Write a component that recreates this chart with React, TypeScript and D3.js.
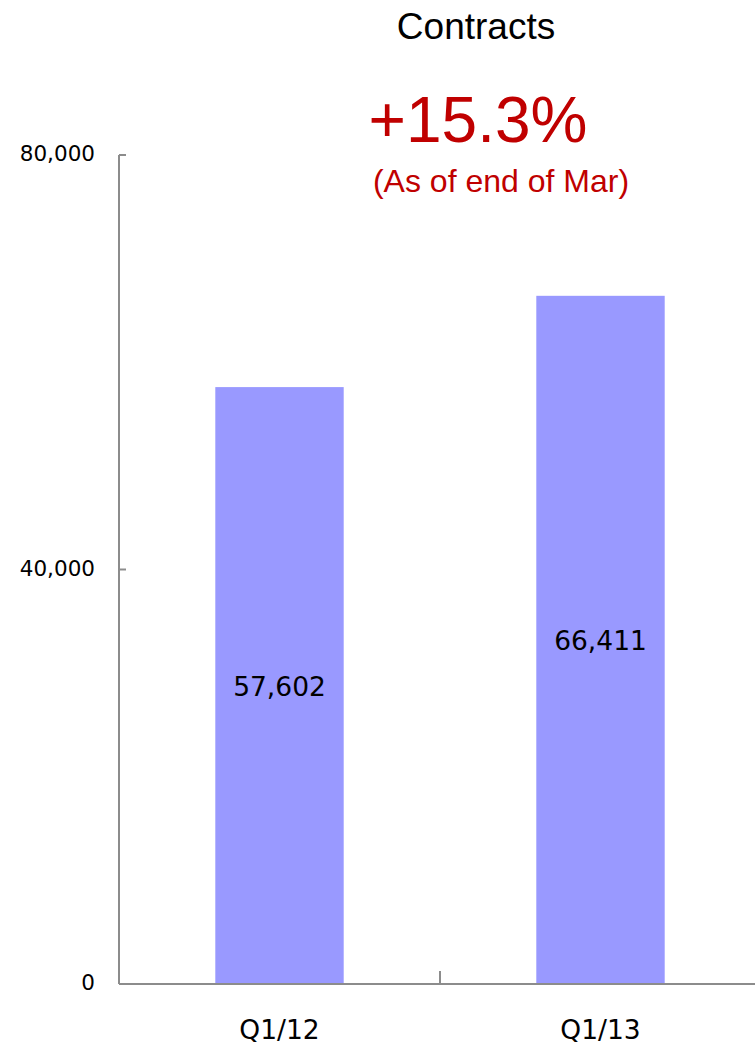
import React from "react";
import * as d3 from "d3";

const categories = ["Q1/12", "Q1/13"];
const contracts = [57602, 66411];
const yTicks = [0, 40000, 80000];

const title = "Contracts";
const growth = "+15.3%";
const note = "(As of end of Mar)";

const width = 755;
const height = 1051;
const left = 119;
const right = 761;
const top = 155;
const bottom = 984;

const axisColor = "#8c8c8c";
const barColor = "#9999ff";
const red = "#c00000";

export default function App() {
  const x = d3
    .scaleBand<string>()
    .domain(categories)
    .range([left, right])
    .paddingInner(0.6)
    .paddingOuter(0.3);

  const y = d3.scaleLinear().domain([0, 80000]).range([bottom, top]);

  const fmt = d3.format(",");
  const step = x.step();

  return (
    <svg
      width={width}
      height={height}
      style={{ position: "absolute", left: 0, top: 0, background: "#fff" }}
    >
      {/* titles */}
      <text
        x={476}
        y={39}
        textAnchor="middle"
        fontFamily="Liberation Sans, Arial, sans-serif"
        fontSize={37}
        fill="#000"
      >
        {title}
      </text>
      <text
        x={478}
        y={142}
        textAnchor="middle"
        fontFamily="Liberation Sans, Arial, sans-serif"
        fontSize={64}
        fill={red}
      >
        {growth}
      </text>
      <text
        x={501}
        y={192}
        textAnchor="middle"
        fontFamily="Liberation Sans, Arial, sans-serif"
        fontSize={32}
        fill={red}
      >
        {note}
      </text>

      {/* bars */}
      {categories.map((c, i) => (
        <rect
          key={c}
          x={x(c)}
          y={y(contracts[i])}
          width={x.bandwidth()}
          height={y(0) - y(contracts[i])}
          fill={barColor}
        />
      ))}

      {/* value labels */}
      {categories.map((c, i) => (
        <text
          key={c + "-v"}
          x={(x(c) as number) + x.bandwidth() / 2}
          y={(y(0) + y(contracts[i])) / 2 + 10.5}
          textAnchor="middle"
          fontFamily="DejaVu Sans, Verdana, sans-serif"
          fontSize={26.5}
          fill="#000"
        >
          {fmt(contracts[i])}
        </text>
      ))}

      {/* y axis */}
      <line x1={left} x2={left} y1={top} y2={bottom} stroke={axisColor} strokeWidth={2} />
      {yTicks.map((t) => (
        <g key={t}>
          <line x1={left} x2={left + 7} y1={y(t)} y2={y(t)} stroke={axisColor} strokeWidth={2} />
          <text
            x={left - 24}
            y={y(t) + 6}
            textAnchor="end"
            fontFamily="DejaVu Sans, Verdana, sans-serif"
            fontSize={21.5}
            fill="#000"
          >
            {fmt(t)}
          </text>
        </g>
      ))}

      {/* x axis */}
      <line x1={left} x2={width} y1={bottom} y2={bottom} stroke={axisColor} strokeWidth={2} />
      {categories.slice(1).map((c) => (
        <line
          key={c + "-t"}
          x1={(x(c) as number) - (step * 0.6) / 2}
          x2={(x(c) as number) - (step * 0.6) / 2}
          y1={bottom - 13}
          y2={bottom}
          stroke={axisColor}
          strokeWidth={2}
        />
      ))}
      {categories.map((c) => (
        <text
          key={c + "-l"}
          x={(x(c) as number) + x.bandwidth() / 2}
          y={1039}
          textAnchor="middle"
          fontFamily="DejaVu Sans, Verdana, sans-serif"
          fontSize={26.5}
          fill="#000"
        >
          {c}
        </text>
      ))}
    </svg>
  );
}
